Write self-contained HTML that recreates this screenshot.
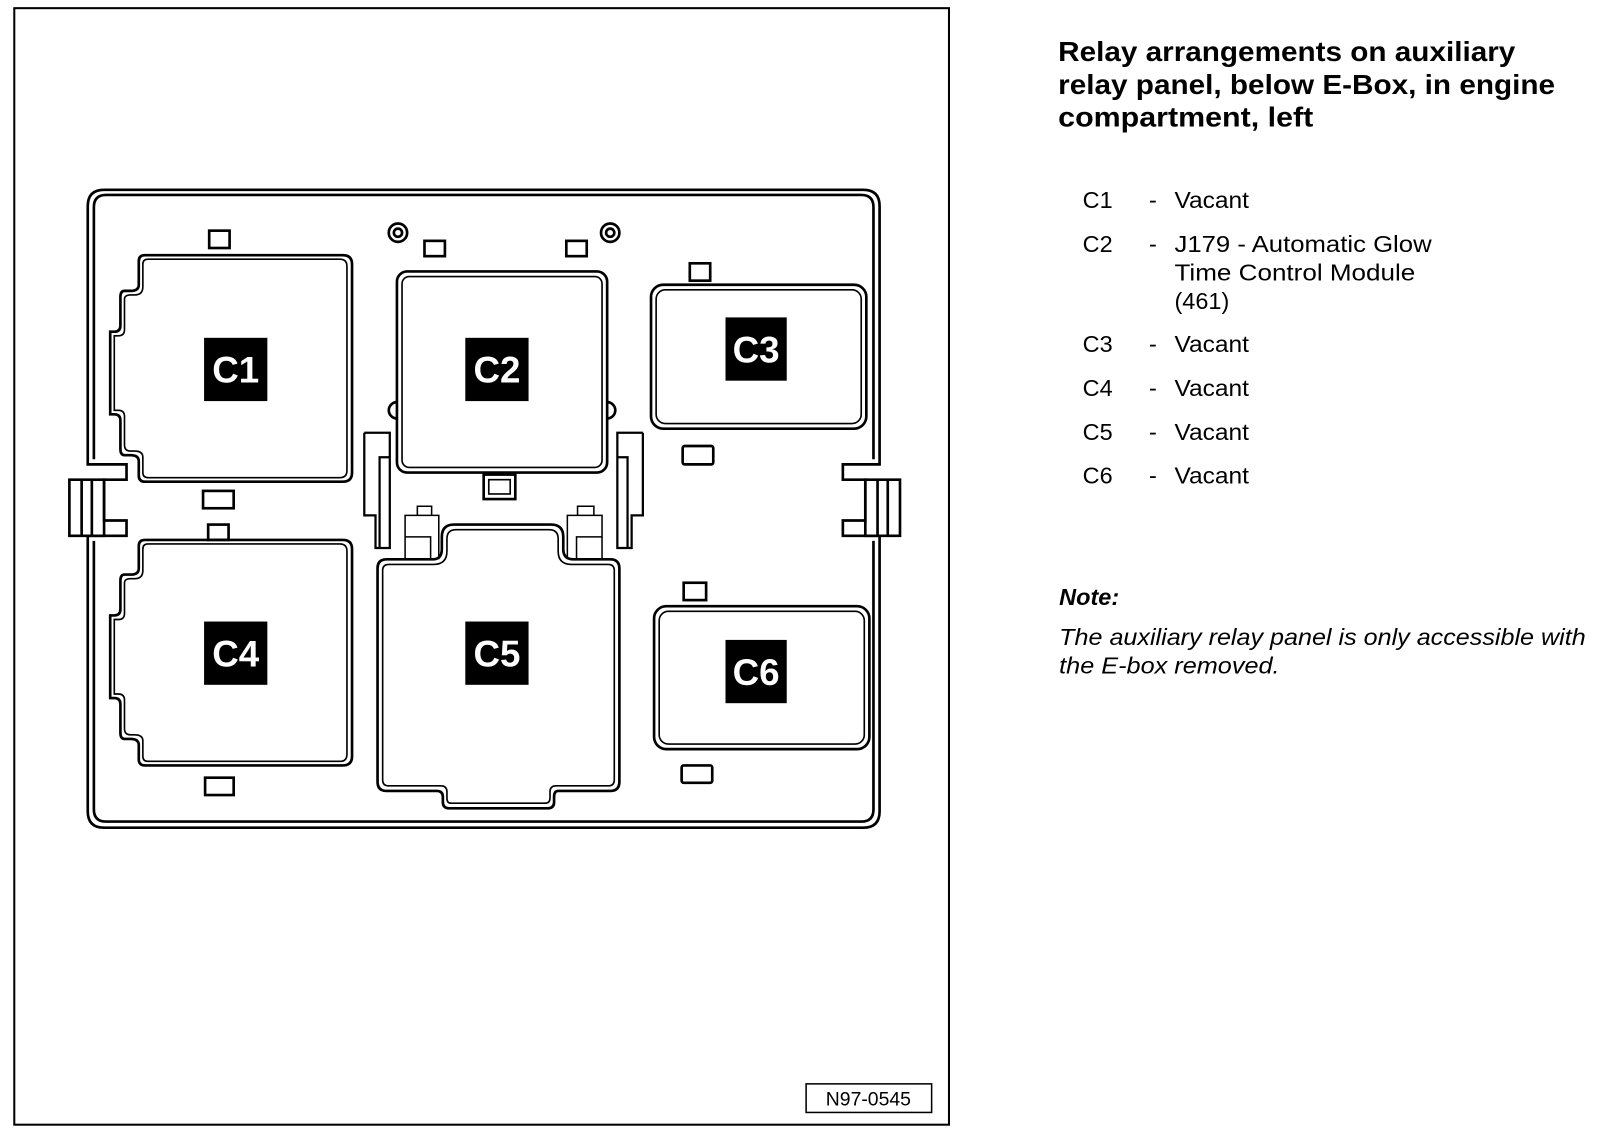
<!DOCTYPE html>
<html><head><meta charset="utf-8"><style>
html,body{margin:0;padding:0;background:#fff;width:1600px;height:1140px;overflow:hidden}
svg{display:block}
text{font-family:"Liberation Sans",Arial,sans-serif}
</style></head><body>
<svg width="1600" height="1140" viewBox="0 0 1568 1117" preserveAspectRatio="none" xmlns="http://www.w3.org/2000/svg">
<rect x="0" y="0" width="1568" height="1117" fill="#fff"/>
<rect x="14" y="8" width="916" height="1094" fill="none" stroke="#000" stroke-width="2"/>
<rect x="790" y="1062" width="123" height="28" fill="none" stroke="#000" stroke-width="1.5"/>
<text x="851" y="1083" font-size="19" text-anchor="middle">N97-0545</text>
<g fill="none" stroke="#000" stroke-width="2.6">
<path d="M102,186 H846 Q862,186 862,202 V455 H826 V470 H848 V510 H826 V525 H862 V795 Q862,811 846,811 H102 Q86,811 86,795 V525 H124 V510 H102 V470 H124 V455 H86 V202 Q86,186 102,186 Z"/>
<path d="M104,191 H844 Q856,191 856,203 V450 M856,530 V793 Q856,805 844,805 H104 Q92,805 92,793 V530 M92,450 V203 Q92,191 104,191"/>
<path d="M68,470 H102 V525 H68 Z M80,470 V525 M90,470 V525"/>
<path d="M882,470 H848 V525 H882 Z M870,470 V525 M860,470 V525"/>
<path d="M142,250 H336 Q345,250 345,259 V463 Q345,472 336,472 H142 Q136,472 136,466 V452 Q136,446 128,446 H122 Q118,446 118,440 V412 Q118,406 112,406 H108 V325 H112 Q118,325 118,319 V291 Q118,285 122,285 H128 Q136,285 136,279 V256 Q136,250 142,250 Z"/>
<path d="M145,254 H333 Q340,254 340,261 V461 Q340,468 333,468 H145 Q140,468 140,463 V448 Q140,442 132,442 H128 Q122,442 122,436 V408 Q122,402 116,402 H112 V329 H116 Q122,329 122,323 V293 Q122,289 128,289 H132 Q140,289 140,281 V259 Q140,254 145,254 Z" stroke-width="1.6"/>
<path d="M142,529 H336 Q345,529 345,538 V741 Q345,750 336,750 H142 Q136,750 136,744 V730 Q136,724 128,724 H122 Q118,724 118,718 V690 Q118,684 112,684 H108 V603 H112 Q118,603 118,597 V569 Q118,563 122,563 H128 Q136,563 136,557 V535 Q136,529 142,529 Z"/>
<path d="M145,533 H333 Q340,533 340,540 V739 Q340,746 333,746 H145 Q140,746 140,741 V726 Q140,720 132,720 H128 Q122,720 122,714 V686 Q122,680 116,680 H112 V607 H116 Q122,607 122,601 V571 Q122,567 128,567 H132 Q140,567 140,559 V538 Q140,533 145,533 Z" stroke-width="1.6"/>
<rect x="389" y="266" width="206" height="197" rx="10"/>
<rect x="394" y="271" width="196" height="187" rx="7" stroke-width="1.6"/>
<circle cx="390" cy="228" r="9"/><circle cx="390" cy="228" r="4"/>
<circle cx="598" cy="228" r="9"/><circle cx="598" cy="228" r="4"/>
<path d="M389,394 A8,8 0 0 0 389,410"/><path d="M595,394 A8,8 0 0 1 595,410"/>
<rect x="638" y="279" width="211" height="141" rx="12"/>
<rect x="643" y="284" width="201" height="131" rx="9" stroke-width="1.6"/>
<rect x="641" y="594" width="211" height="140" rx="12"/>
<rect x="646" y="599" width="201" height="130" rx="9" stroke-width="1.6"/>
<path d="M445,514 H540 Q552,514 552,526 V538 Q552,548 562,548 H598 Q607,548 607,557 V766 Q607,775 598,775 H547 Q543,775 543,781 V786 Q543,792 537,792 H440 Q434,792 434,786 V781 Q434,775 428,775 H379 Q370,775 370,766 V557 Q370,548 379,548 H424 Q433,548 433,538 V526 Q433,514 445,514 Z"/>
<path d="M447,519 H538 Q547,519 547,528 V540 Q547,553 560,553 H596 Q602,553 602,559 V764 Q602,770 596,770 H545 Q539,770 539,776 V782 Q539,787 534,787 H442 Q438,787 438,782 V776 Q438,770 432,770 H381 Q375,770 375,764 V559 Q375,553 381,553 H425 Q438,553 438,540 V528 Q438,519 447,519 Z" stroke-width="1.6"/>
<path d="M357,424 H382 V537 H372 V448 H382 M357,424 V505 H368 V537 H372" stroke-width="2.2"/>
<path d="M630,424 H605 V537 H615 V448 H605 M630,424 V505 H619 V537 H615" stroke-width="2.2"/>
<path d="M397,548 V505 H430 V548 M397,526 H422 V548 M409,505 V496 H423 V505" stroke-width="1.5"/>
<path d="M590,548 V505 H556 V548 M590,526 H565 V548 M566,505 V496 H582 V505" stroke-width="1.5"/>
<rect x="205" y="226" width="20" height="17"/>
<rect x="416" y="236" width="20" height="15"/>
<rect x="555" y="236" width="20" height="15"/>
<rect x="676" y="258" width="20" height="17"/>
<rect x="669" y="437" width="30" height="18" rx="2"/>
<rect x="199" y="481" width="30" height="17"/>
<rect x="204" y="514" width="20" height="15"/>
<rect x="201" y="762" width="28" height="17"/>
<rect x="670" y="571" width="22" height="17"/>
<rect x="668" y="750" width="30" height="17" rx="2"/>
<rect x="474" y="465" width="31" height="24"/>
<rect x="479" y="470" width="21" height="14" stroke-width="1.6"/>
</g>
<g font-size="36" fill="#fff" text-anchor="middle" font-weight="bold">
<rect x="200" y="331" width="62" height="62" fill="#000"/><text x="231" y="375">C1</text>
<rect x="456" y="331" width="62" height="62" fill="#000"/><text x="487" y="375">C2</text>
<rect x="711" y="311" width="60" height="62" fill="#000"/><text x="741" y="355">C3</text>
<rect x="200" y="609" width="62" height="62" fill="#000"/><text x="231" y="653">C4</text>
<rect x="456" y="609" width="62" height="62" fill="#000"/><text x="487" y="653">C5</text>
<rect x="711" y="627" width="60" height="62" fill="#000"/><text x="741" y="671">C6</text>
</g>
<g font-size="27" font-weight="bold" lengthAdjust="spacingAndGlyphs">
<text x="1037" y="60" textLength="448" lengthAdjust="spacingAndGlyphs">Relay arrangements on auxiliary</text>
<text x="1037" y="92" textLength="487" lengthAdjust="spacingAndGlyphs">relay panel, below E-Box, in engine</text>
<text x="1037" y="124" textLength="250" lengthAdjust="spacingAndGlyphs">compartment, left</text>
</g>
<g font-size="23">
<text x="1061" y="204">C1</text><text x="1126" y="204">-</text><text x="1151" y="204" textLength="73" lengthAdjust="spacingAndGlyphs">Vacant</text>
<text x="1061" y="247">C2</text><text x="1126" y="247">-</text><text x="1151" y="247" textLength="252" lengthAdjust="spacingAndGlyphs">J179 - Automatic Glow</text>
<text x="1151" y="275" textLength="236" lengthAdjust="spacingAndGlyphs">Time Control Module</text>
<text x="1151" y="303">(461)</text>
<text x="1061" y="345">C3</text><text x="1126" y="345">-</text><text x="1151" y="345" textLength="73" lengthAdjust="spacingAndGlyphs">Vacant</text>
<text x="1061" y="388">C4</text><text x="1126" y="388">-</text><text x="1151" y="388" textLength="73" lengthAdjust="spacingAndGlyphs">Vacant</text>
<text x="1061" y="431">C5</text><text x="1126" y="431">-</text><text x="1151" y="431" textLength="73" lengthAdjust="spacingAndGlyphs">Vacant</text>
<text x="1061" y="474">C6</text><text x="1126" y="474">-</text><text x="1151" y="474" textLength="73" lengthAdjust="spacingAndGlyphs">Vacant</text>
</g>
<text x="1038" y="593" font-size="23" font-weight="bold" font-style="italic">Note:</text>
<g font-size="23" font-style="italic">
<text x="1038" y="632" textLength="516" lengthAdjust="spacingAndGlyphs">The auxiliary relay panel is only accessible with</text>
<text x="1038" y="660" textLength="216" lengthAdjust="spacingAndGlyphs">the E-box removed.</text>
</g>
</svg>
</body></html>
